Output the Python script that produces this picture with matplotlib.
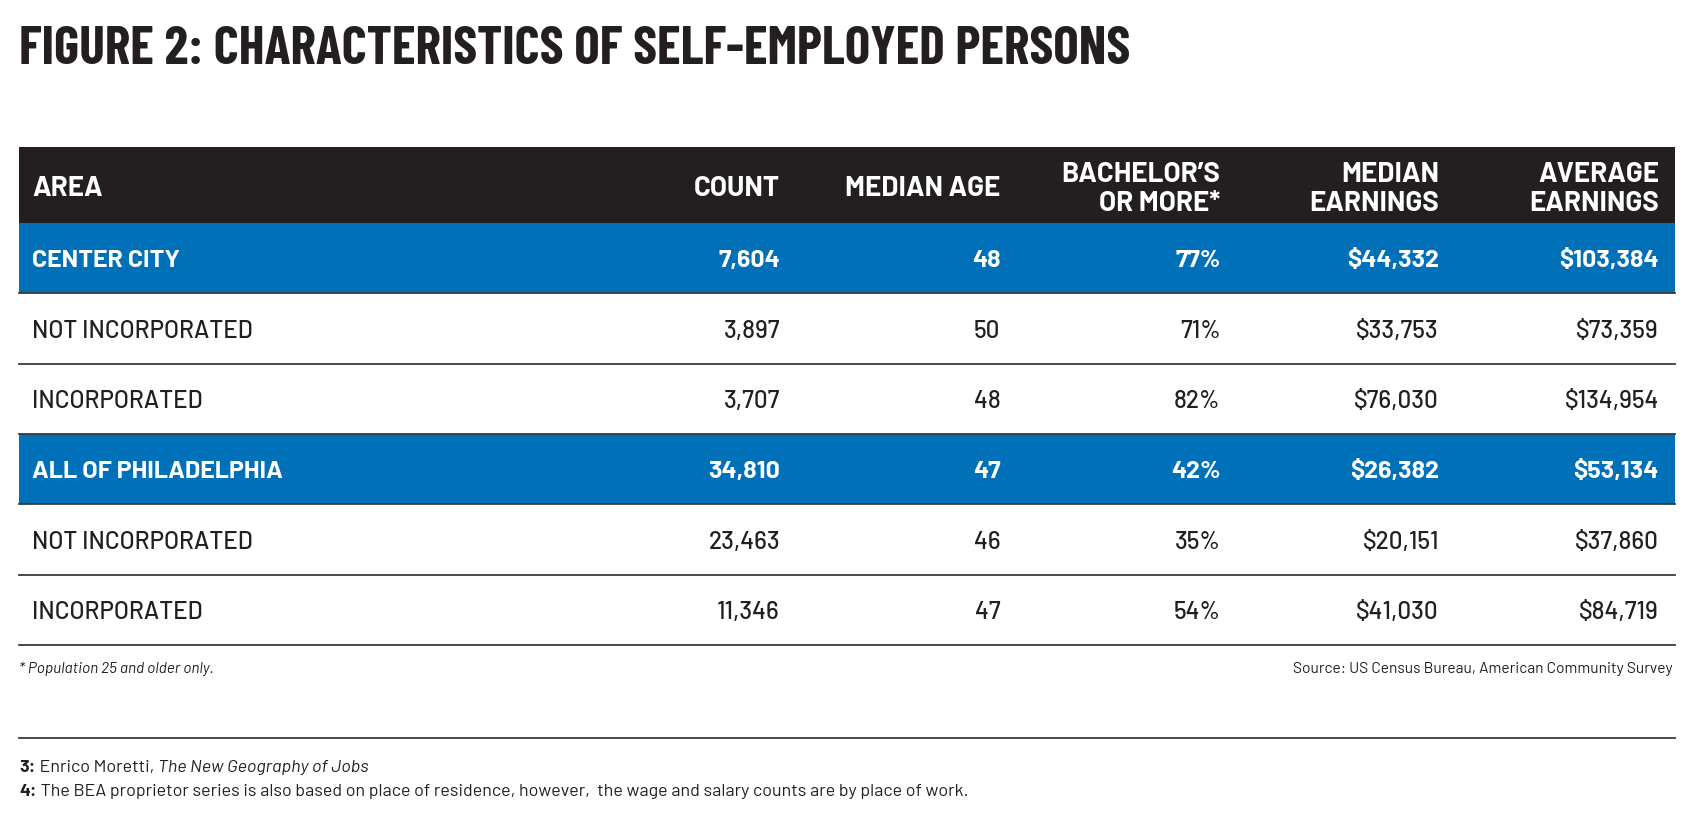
import matplotlib
matplotlib.use("Agg")
import matplotlib.pyplot as plt
from matplotlib.patches import Rectangle

# Table content
columns = ["AREA", "COUNT", "MEDIAN AGE", "BACHELOR\u2019S\nOR MORE*", "MEDIAN\nEARNINGS", "AVERAGE\nEARNINGS"]
areas = ["CENTER CITY", "NOT INCORPORATED", "INCORPORATED",
         "ALL OF PHILADELPHIA", "NOT INCORPORATED", "INCORPORATED"]
counts = ["7,604", "3,897", "3,707", "34,810", "23,463", "11,346"]
median_age = ["48", "50", "48", "47", "46", "47"]
bachelors = ["77%", "71%", "82%", "42%", "35%", "54%"]
median_earn = ["$44,332", "$33,753", "$76,030", "$26,382", "$20,151", "$41,030"]
average_earn = ["$103,384", "$73,359", "$134,954", "$53,134", "$37,860", "$84,719"]
is_total = [True, False, False, True, False, False]

title = "FIGURE 2: CHARACTERISTICS OF SELF-EMPLOYED PERSONS"
note = "* Population 25 and older only."
source = "Source: US Census Bureau, American Community Survey"
fn3 = [("3:", "bold", "normal"), (" Enrico Moretti, ", "normal", "normal"),
       ("The New Geography of Jobs", "normal", "italic")]
fn4 = [("4:", "bold", "normal"),
       (" The BEA proprietor series is also based on place of residence, however,  the wage and salary counts are by place of work.",
        "normal", "normal")]

DARK = "#231f20"
BLUE = "#0070b8"
LINE = "#3a3a3a"
COND = ["Barlow Condensed", "DejaVu Sans"]
BODY = ["Barlow", "DejaVu Sans"]

W, H = 1698, 820
fig = plt.figure(figsize=(W / 100, H / 100), dpi=100)
ax = fig.add_axes([0, 0, 1, 1])
ax.set_xlim(0, W)
ax.set_ylim(H, 0)
ax.axis("off")

left, right = 19.5, 1675
head_top, head_bot = 148, 224
row_h = 70.3
col_right = [780, 1000.5, 1220.5, 1439, 1659]
text_left = 32.5

ax.text(left, 50, title, fontsize=38.7, fontweight="bold", family=COND,
        color=DARK, va="center", ha="left")

# header
ax.add_patch(Rectangle((left, head_top), right - left, head_bot - head_top, color=DARK, lw=0))
hy = (head_top + head_bot) / 2 + 3
ax.text(text_left, hy, columns[0], fontsize=20, fontweight="bold", family=BODY,
        color="white", va="center", ha="left")
for xr, lab in zip(col_right, columns[1:]):
    ax.text(xr, hy, lab, fontsize=20, fontweight="bold", family=BODY, color="white",
            va="center", ha="right", linespacing=1.2)

# rows
for i, area in enumerate(areas):
    top = head_bot + i * row_h
    cy = top + row_h / 2 + 2
    vals = [counts[i], median_age[i], bachelors[i], median_earn[i], average_earn[i]]
    if is_total[i]:
        ax.add_patch(Rectangle((left, top), right - left, row_h, color=BLUE, lw=0))
        kw = dict(fontsize=18, fontweight="bold", family=BODY, color="white")
    else:
        kw = dict(fontsize=17.5, fontweight="medium", family=BODY, color=DARK)
    ax.text(text_left, cy, area, va="center", ha="left", **kw)
    for xr, v in zip(col_right, vals):
        ax.text(xr, cy, v, va="center", ha="right", **kw)
    ax.plot([left, right], [top + row_h, top + row_h], color=LINE, lw=1.3)

ax.text(left, 669, note, fontsize=11.1, style="italic", family=BODY, color=DARK,
        va="center", ha="left")
ax.text(right - 2, 669, source, fontsize=11.15, family=BODY, color=DARK,
        va="center", ha="right")

ax.plot([left, right], [738.5, 738.5], color=LINE, lw=1.3)

fig.canvas.draw()
r = fig.canvas.get_renderer()
for y, parts in [(768, fn3), (792, fn4)]:
    x = left
    for s, wt, st in parts:
        tt = ax.text(x, y, s, fontsize=12.9, fontweight=wt, style=st, family=BODY,
                     color=DARK, va="center", ha="left")
        x += tt.get_window_extent(r).width

fig.savefig("out.png", dpi=100)
